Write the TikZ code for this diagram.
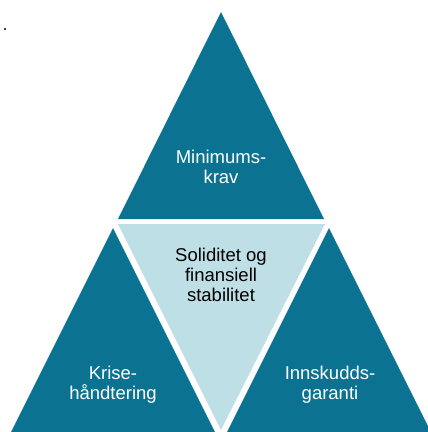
\documentclass[tikz,border=0pt]{standalone}
\usepackage{fontspec}
\setmainfont{Liberation Sans}
\definecolor{teal}{RGB}{11,114,145}
\definecolor{paleblue}{RGB}{191,223,231}
\begin{document}
\begin{tikzpicture}[x=1pt,y=-1pt,
  dark/.style={fill=teal},
  pale/.style={fill=paleblue},
  label/.style={align=center,anchor=base,inner sep=0pt,
    font=\fontsize{18.5}{20}\selectfont},
  whitelabel/.style={label,text=white},
  blacklabel/.style={label,text=black}]
\useasboundingbox (0,0) rectangle (428,432);
% stray bullet in the corner
\fill[black] (5,29) circle (1.1);
% the four triangles
\fill[dark] (221,12) -- (118,219) -- (324,219) -- cycle;
\fill[pale] (118,224) -- (325,224) -- (221,430) -- cycle;
\fill[dark] (113,228) -- (11,432) -- (215,432) -- cycle;
\fill[dark] (329,228) -- (227,432) -- (431,432) -- cycle;
% labels (anchored on the baseline of their last line)
\node[whitelabel] (minkrav) at (221,183) {Minimums-\\krav};
\node[blacklabel] (solid) at (221,301) {Soliditet og\\finansiell\\stabilitet};
\node[whitelabel] (krise) at (113,399) {Krise-\\håndtering};
\node[whitelabel] (innskudd) at (330,399) {Innskudds-\\garanti};
\end{tikzpicture}
\end{document}
